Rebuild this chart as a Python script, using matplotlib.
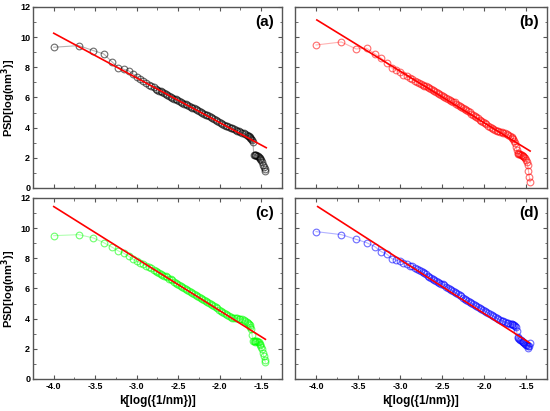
import numpy as np
import matplotlib
matplotlib.use('Agg')
import matplotlib.pyplot as plt
from matplotlib.ticker import MultipleLocator, FormatStrFormatter

plt.rcParams['font.family'] = ['Liberation Sans', 'DejaVu Sans']
plt.rcParams['font.weight'] = 'bold'

# log of spatial frequency (shared by the four panels)
logk = [-4.000, -3.699, -3.523, -3.398, -3.301, -3.222, -3.155, -3.097, -3.046, -3.000,
        -2.959, -2.921, -2.886, -2.854, -2.824, -2.796,
        -2.77, -2.75, -2.73, -2.71, -2.69, -2.67, -2.65, -2.63, -2.61, -2.59,
        -2.57, -2.55, -2.53, -2.51, -2.49, -2.47, -2.45, -2.43, -2.41, -2.39,
        -2.37, -2.35, -2.33, -2.31, -2.29, -2.27, -2.25, -2.23, -2.21, -2.19,
        -2.17, -2.15, -2.13, -2.11, -2.09, -2.07, -2.05, -2.03, -2.01, -1.99,
        -1.97, -1.95, -1.93, -1.91, -1.89, -1.87, -1.85, -1.83, -1.81, -1.79,
        -1.77, -1.75, -1.73, -1.71, -1.69, -1.67,
        -1.66, -1.65, -1.64, -1.63, -1.62, -1.61, -1.60, -1.59, -1.58, -1.57,
        -1.56, -1.55, -1.54, -1.53, -1.52, -1.51, -1.50, -1.49, -1.48, -1.47,
        -1.46, -1.45]

psd_a = [9.33, 9.44, 9.11, 8.89, 8.38, 7.98, 7.87, 7.76, 7.56, 7.38,
         7.24, 7.10, 6.97, 6.86, 6.76, 6.67,
         6.59, 6.52, 6.46, 6.40, 6.34, 6.28, 6.22, 6.16, 6.10, 6.04,
         5.98, 5.92, 5.87, 5.81, 5.76, 5.70, 5.65, 5.60, 5.54, 5.49,
         5.44, 5.39, 5.33, 5.28, 5.22, 5.16, 5.10, 5.05, 4.99, 4.93,
         4.87, 4.81, 4.74, 4.68, 4.62, 4.56, 4.49, 4.43, 4.37, 4.31,
         4.25, 4.20, 4.14, 4.09, 4.04, 4.00, 3.95, 3.90, 3.86, 3.81,
         3.76, 3.71, 3.66, 3.62, 3.57, 3.51,
         3.47, 3.43, 3.39, 3.33, 3.25, 3.15, 3.03, 2.22, 2.20, 2.18,
         2.17, 2.15, 2.11, 2.06, 2.00, 1.92, 1.83, 1.70, 1.55, 1.40,
         1.25, 1.15]

psd_b = [9.48, 9.68, 9.22, 9.26, 8.91, 8.60, 8.27, 7.95, 7.82, 7.68,
         7.52, 7.40, 7.30, 7.22, 7.12, 7.03,
         6.95, 6.89, 6.84, 6.79, 6.73, 6.67, 6.60, 6.54, 6.48, 6.41,
         6.35, 6.29, 6.23, 6.17, 6.11, 6.05, 5.99, 5.93, 5.86, 5.80,
         5.73, 5.67, 5.60, 5.53, 5.46, 5.40, 5.33, 5.25, 5.17, 5.09,
         5.01, 4.93, 4.85, 4.77, 4.70, 4.62, 4.54, 4.46, 4.37, 4.29,
         4.21, 4.13, 4.05, 3.98, 3.91, 3.85, 3.80, 3.75, 3.72, 3.69,
         3.66, 3.63, 3.59, 3.53, 3.46, 3.38,
         3.30, 3.22, 3.10, 2.95, 2.75, 2.55, 2.30, 2.28, 2.25, 2.23,
         2.20, 2.17, 2.14, 2.10, 2.05, 1.98, 1.88, 1.72, 1.50, 1.15,
         0.75, 0.40]

psd_c = [9.50, 9.57, 9.35, 9.04, 8.75, 8.49, 8.33, 8.14, 7.94, 7.80,
         7.70, 7.60, 7.50, 7.42, 7.33, 7.24,
         7.16, 7.10, 7.04, 6.98, 6.92, 6.86, 6.80, 6.73, 6.66, 6.60,
         6.53, 6.46, 6.38, 6.31, 6.24, 6.16, 6.09, 6.02, 5.95, 5.88,
         5.81, 5.74, 5.67, 5.61, 5.55, 5.49, 5.43, 5.37, 5.31, 5.25,
         5.19, 5.12, 5.05, 4.98, 4.91, 4.84, 4.76, 4.68, 4.60, 4.52,
         4.44, 4.36, 4.29, 4.22, 4.16, 4.11, 4.07, 4.05, 4.03, 4.02,
         4.00, 3.98, 3.96, 3.92, 3.87, 3.78,
         3.72, 3.65, 3.56, 3.45, 3.30, 2.90, 2.55, 2.52, 2.50, 2.48,
         2.49, 2.50, 2.47, 2.42, 2.35, 2.25, 2.12, 1.96, 1.75, 1.50,
         1.28, 1.12]

psd_d = [9.77, 9.57, 9.26, 9.04, 8.78, 8.44, 8.27, 7.98, 7.88, 7.80,
         7.70, 7.60, 7.52, 7.46, 7.37, 7.28,
         7.20, 7.13, 7.07, 7.00, 6.93, 6.86, 6.79, 6.71, 6.64, 6.57,
         6.51, 6.45, 6.39, 6.33, 6.27, 6.20, 6.13, 6.06, 5.98, 5.91,
         5.83, 5.75, 5.68, 5.61, 5.54, 5.47, 5.40, 5.33, 5.26, 5.18,
         5.11, 5.03, 4.96, 4.89, 4.83, 4.77, 4.71, 4.65, 4.59, 4.53,
         4.46, 4.39, 4.32, 4.25, 4.18, 4.11, 4.04, 3.98, 3.92, 3.87,
         3.82, 3.77, 3.73, 3.70, 3.67, 3.65,
         3.63, 3.61, 3.58, 3.54, 3.45, 3.15, 2.80, 2.70, 2.64, 2.60,
         2.56, 2.52, 2.48, 2.43, 2.38, 2.33, 2.28, 2.22, 2.16, 2.08,
         2.20, 2.38]

# linear fits (end points)
fit_x = [[-4.00, -1.44], [-3.99, -1.45], [-4.00, -1.45], [-3.98, -1.46]]
fit_y = [[10.26, 2.67], [11.14, 2.45], [11.43, 2.63], [11.43, 2.41]]

series = [psd_a, psd_b, psd_c, psd_d]
colors = ['black', 'red', '#00ff00', 'blue']
tags = ['(a)', '(b)', '(c)', '(d)']
boxes = [[0.060, 0.5426, 0.4527, 0.4404],
         [0.5364, 0.5426, 0.458, 0.4404],
         [0.060, 0.0779, 0.4527, 0.4404],
         [0.5364, 0.0779, 0.458, 0.4404]]

fig = plt.figure(figsize=(5.5, 4.11), dpi=100)

for i in range(4):
    ax = fig.add_axes(boxes[i])
    ax.plot(logk, series[i], '-', color=colors[i], alpha=0.3, linewidth=0.8)
    ax.plot(logk, series[i], 'o', markerfacecolor='none', markeredgecolor=colors[i],
            markersize=4.8, markeredgewidth=0.85, alpha=0.55, linestyle='none')
    ax.plot(fit_x[i], fit_y[i], color='red', linewidth=1.2)

    ax.set_xlim(-4.25, -1.25)
    ax.set_ylim(0, 12)
    ax.xaxis.set_major_locator(MultipleLocator(0.5))
    ax.xaxis.set_minor_locator(MultipleLocator(0.25))
    ax.yaxis.set_major_locator(MultipleLocator(2))
    ax.yaxis.set_minor_locator(MultipleLocator(1))
    ax.xaxis.set_major_formatter(FormatStrFormatter('%.1f'))
    ax.tick_params(which='both', direction='in', top=True, right=True,
                   color='#555555', labelsize=6.5, pad=2)
    ax.tick_params(which='major', length=3, width=0.8)
    ax.tick_params(which='minor', length=1.8, width=0.6)
    for s in ax.spines.values():
        s.set_color('#555555')
        s.set_linewidth(1.0)

    if i in (0, 1):
        ax.tick_params(labelbottom=False)
    else:
        ax.set_xlabel('k[log({1/nm})]', fontsize=8.5, fontweight='bold', labelpad=3)
    if i in (1, 3):
        ax.tick_params(labelleft=False)
    else:
        ax.set_ylabel('PSD[log(nm$^\\mathbf{3}$)]', fontsize=8, fontweight='bold')
        ax.yaxis.set_label_coords(-0.062, 0.5)

    ax.text(0.93, 0.915, tags[i], transform=ax.transAxes, ha='center', va='center',
            fontsize=11, fontweight='bold')

plt.savefig('out.png', dpi=100)
